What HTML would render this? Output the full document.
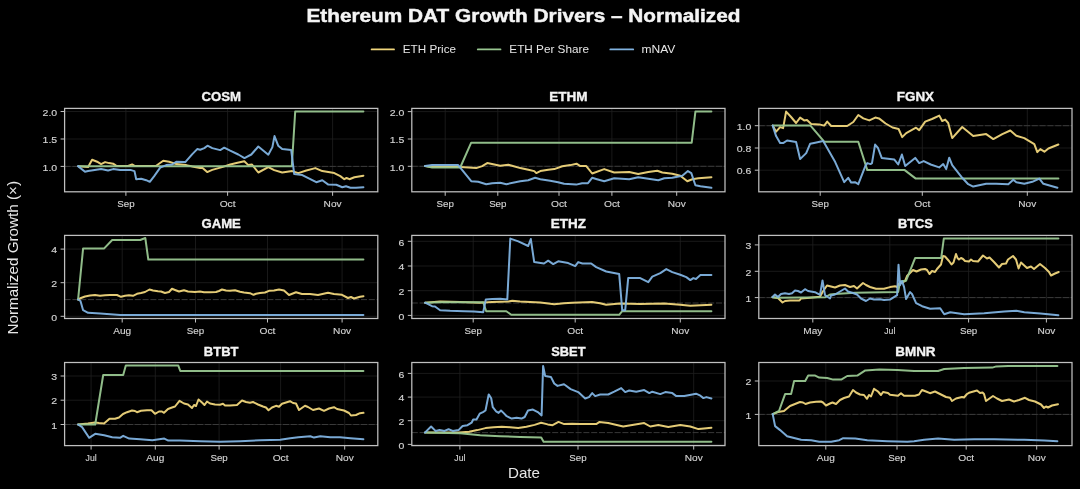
<!DOCTYPE html>
<html><head><meta charset="utf-8"><title>Ethereum DAT Growth Drivers</title>
<style>html,body{margin:0;padding:0;background:#000;width:1080px;height:489px;overflow:hidden}svg{display:block}text{font-family:"Liberation Sans",sans-serif}.tt{paint-order:stroke}</style>
</head><body>
<svg width="1080" height="489" viewBox="0 0 1080 489" style="will-change:transform">
<rect x="0" y="0" width="1080" height="489" fill="#000"/>
<text x="523.4" y="21.7" fill="#f4f4f4" stroke="#f4f4f4" stroke-width="0.45" font-size="18.75" font-weight="bold" text-anchor="middle" textLength="434.01" lengthAdjust="spacingAndGlyphs">Ethereum DAT Growth Drivers – Normalized</text>
<line x1="371.6" y1="49.4" x2="394" y2="49.4" stroke="#f0d67c" stroke-width="1.8" stroke-linecap="round"/>
<text x="402.8" y="52.9" fill="#e6e6e6" font-size="10.9" textLength="53.22" lengthAdjust="spacingAndGlyphs">ETH Price</text>
<line x1="477.8" y1="49.4" x2="500.5" y2="49.4" stroke="#98c690" stroke-width="1.8" stroke-linecap="round"/>
<text x="509.3" y="52.9" fill="#e6e6e6" font-size="10.9" textLength="79.63" lengthAdjust="spacingAndGlyphs">ETH Per Share</text>
<line x1="610.3" y1="49.4" x2="633.2" y2="49.4" stroke="#80b2e0" stroke-width="1.8" stroke-linecap="round"/>
<text x="641.5" y="52.9" fill="#e6e6e6" font-size="10.9" textLength="33.9" lengthAdjust="spacingAndGlyphs">mNAV</text>
<text x="524" y="478.3" fill="#e6e6e6" font-size="14.2" text-anchor="middle" textLength="32.03" lengthAdjust="spacingAndGlyphs">Date</text>
<text transform="translate(18.2,257.8) rotate(-90)" x="0" y="0" fill="#e6e6e6" font-size="14.2" text-anchor="middle" textLength="153.54" lengthAdjust="spacingAndGlyphs">Normalized Growth (×)</text>
<g>
<line x1="64.6" y1="111.5" x2="377.8" y2="111.5" stroke="#202020" stroke-width="0.8"/>
<line x1="64.6" y1="139" x2="377.8" y2="139" stroke="#202020" stroke-width="0.8"/>
<line x1="64.6" y1="166.4" x2="377.8" y2="166.4" stroke="#202020" stroke-width="0.8"/>
<line x1="125.9" y1="108.4" x2="125.9" y2="191.8" stroke="#202020" stroke-width="0.8"/>
<line x1="227.6" y1="108.4" x2="227.6" y2="191.8" stroke="#202020" stroke-width="0.8"/>
<line x1="332.6" y1="108.4" x2="332.6" y2="191.8" stroke="#202020" stroke-width="0.8"/>
<line x1="64.6" y1="166.4" x2="377.8" y2="166.4" stroke="#3e3e3e" stroke-width="0.9" stroke-dasharray="6,1.8"/>
<polyline fill="none" stroke="#f0d67c" stroke-width="2.0" stroke-linejoin="round" stroke-linecap="round" stroke-opacity="0.95" points="78.5,166.3 88.1,167.1 92.1,159.7 97.1,161.7 101.1,164.1 105.1,162.1 109.1,163.1 113.1,163.7 116.1,165.7 128,165.9 132.1,164.5 135,166.1 156.2,165.7 163.2,160.7 169.2,161.7 176.2,164.1 186.3,165.1 192.3,166.5 200.1,168.1 202.3,167.7 207.2,172.1 212.2,169.9 222.1,167.1 230.2,164.5 236.4,163.1 244.3,161.3 248.3,165.1 252,164.5 258.3,172.5 268.3,167.1 274.2,170.1 282.2,172.5 292.2,171.1 298.3,173.1 306.3,170.5 315.3,168.1 322.3,171.1 334.3,173.1 340.3,176.1 344.3,179.2 346.5,178 349.4,179.2 354.4,177.2 363.4,175.7"/>
<polyline fill="none" stroke="#98c690" stroke-width="2.0" stroke-linejoin="round" stroke-linecap="round" stroke-opacity="0.95" points="78.5,166.3 291.8,166.3 295.2,111.6 363.4,111.6"/>
<polyline fill="none" stroke="#80b2e0" stroke-width="2.0" stroke-linejoin="round" stroke-linecap="round" stroke-opacity="0.95" points="78,166.1 85,171.7 88.1,171.1 101.1,169.1 108.1,170.5 113.1,169.1 120.1,170.1 131.1,170.1 134.5,171.1 136.2,179.2 141.2,178.8 146.2,180.2 149.8,181.8 154.2,176.1 160.2,167.7 166.2,165.1 172.2,164.5 176.2,161.7 184,162.1 185.3,162.1 192.3,154.1 197.2,149.1 200.2,149.7 204.3,148.1 207.5,145.7 212.3,148.1 220.2,150.1 224.2,147.7 230.2,150.7 238.3,154.5 244.5,158.1 251.3,154.5 258.3,146.5 268.3,154.7 272.4,147.1 274.5,136.1 278.2,145.7 282.2,149.1 291.2,150.1 294.2,174.1 302.3,175.1 310.3,179.2 316.3,182.2 322.3,180.2 328.3,184.6 336.3,184.8 342.3,187.2 346,186.2 350.4,187.8 356,187.8 363.4,187.2"/>
<rect x="64.6" y="108.4" width="313.2" height="83.4" fill="none" stroke="#c0c0c0" stroke-width="1.25"/>
<line x1="60.6" y1="111.5" x2="64.6" y2="111.5" stroke="#c0c0c0" stroke-width="1"/>
<text x="57.2" y="115.7" fill="#d2d2d2" stroke="#d2d2d2" stroke-width="0.15" font-size="9.9" text-anchor="end" textLength="14.63" lengthAdjust="spacingAndGlyphs">2.0</text>
<line x1="60.6" y1="139" x2="64.6" y2="139" stroke="#c0c0c0" stroke-width="1"/>
<text x="57.2" y="143.2" fill="#d2d2d2" stroke="#d2d2d2" stroke-width="0.15" font-size="9.9" text-anchor="end" textLength="14.63" lengthAdjust="spacingAndGlyphs">1.5</text>
<line x1="60.6" y1="166.4" x2="64.6" y2="166.4" stroke="#c0c0c0" stroke-width="1"/>
<text x="57.2" y="170.6" fill="#d2d2d2" stroke="#d2d2d2" stroke-width="0.15" font-size="9.9" text-anchor="end" textLength="14.63" lengthAdjust="spacingAndGlyphs">1.0</text>
<line x1="125.9" y1="191.8" x2="125.9" y2="195.8" stroke="#c0c0c0" stroke-width="1"/>
<text x="125.9" y="206.8" fill="#d2d2d2" stroke="#d2d2d2" stroke-width="0.15" font-size="9.9" text-anchor="middle" textLength="17.34" lengthAdjust="spacingAndGlyphs">Sep</text>
<line x1="227.6" y1="191.8" x2="227.6" y2="195.8" stroke="#c0c0c0" stroke-width="1"/>
<text x="227.6" y="206.8" fill="#d2d2d2" stroke="#d2d2d2" stroke-width="0.15" font-size="9.9" text-anchor="middle" textLength="15.91" lengthAdjust="spacingAndGlyphs">Oct</text>
<line x1="332.6" y1="191.8" x2="332.6" y2="195.8" stroke="#c0c0c0" stroke-width="1"/>
<text x="332.6" y="206.8" fill="#d2d2d2" stroke="#d2d2d2" stroke-width="0.15" font-size="9.9" text-anchor="middle" textLength="17.96" lengthAdjust="spacingAndGlyphs">Nov</text>
<text x="221.2" y="101.4" fill="#f4f4f4" stroke="#f4f4f4" stroke-width="0.35" font-size="12.72" font-weight="bold" text-anchor="middle" textLength="39.59" lengthAdjust="spacingAndGlyphs">COSM</text>
</g>
<g>
<line x1="411.8" y1="111.6" x2="725" y2="111.6" stroke="#202020" stroke-width="0.8"/>
<line x1="411.8" y1="139" x2="725" y2="139" stroke="#202020" stroke-width="0.8"/>
<line x1="411.8" y1="166.3" x2="725" y2="166.3" stroke="#202020" stroke-width="0.8"/>
<line x1="445.2" y1="108.4" x2="445.2" y2="191.8" stroke="#202020" stroke-width="0.8"/>
<line x1="497.8" y1="108.4" x2="497.8" y2="191.8" stroke="#202020" stroke-width="0.8"/>
<line x1="559" y1="108.4" x2="559" y2="191.8" stroke="#202020" stroke-width="0.8"/>
<line x1="611.9" y1="108.4" x2="611.9" y2="191.8" stroke="#202020" stroke-width="0.8"/>
<line x1="676.7" y1="108.4" x2="676.7" y2="191.8" stroke="#202020" stroke-width="0.8"/>
<line x1="411.8" y1="166.3" x2="725" y2="166.3" stroke="#3e3e3e" stroke-width="0.9" stroke-dasharray="6,1.8"/>
<polyline fill="none" stroke="#f0d67c" stroke-width="2.0" stroke-linejoin="round" stroke-linecap="round" stroke-opacity="0.95" points="425.1,166.1 432.1,167.1 460.2,167.1 476.2,168.1 482.2,166.1 487.2,163.1 492,164.1 500.2,165.7 508.3,164.7 512,165.7 520.3,168.1 528.3,169.7 534.3,171.1 536.3,173.1 540.3,171.1 548.3,169.7 554.3,169.1 562.3,166.3 570.4,165.1 576.5,163.7 580.3,166.1 586.3,166.1 592.2,173.5 604.2,169.1 614.2,172.5 629.2,172.1 638.2,174.1 648.3,172.1 657.3,170.7 662.3,172.5 672.3,173.7 680.3,175.7 687.3,181.2 692.3,179.2 698.4,178.2 711.4,177.2"/>
<polyline fill="none" stroke="#98c690" stroke-width="2.0" stroke-linejoin="round" stroke-linecap="round" stroke-opacity="0.95" points="425.1,166.1 432.1,167.5 460.2,167.5 471.2,142.7 691.7,142.7 695.4,111.6 711.4,111.6"/>
<polyline fill="none" stroke="#80b2e0" stroke-width="2.0" stroke-linejoin="round" stroke-linecap="round" stroke-opacity="0.95" points="425.1,166.1 432.1,165.1 458.2,165.1 471.2,181.2 478.2,181.8 486.2,184.2 492.2,183.2 500.2,182.8 506.3,184.2 520.2,181.2 528.2,180.2 535.1,177.8 540.3,179.2 550.2,180.8 558.1,182.2 564.1,183.8 576.2,184.6 582.1,183.2 588,183.2 592.1,177.8 597,179.2 604.2,181.2 614.2,178.2 629.2,179.2 638.2,177.2 648.3,178.8 658.3,180.2 664.3,178.2 672.3,177.8 682.3,175.7 687.9,171.1 691.3,173.1 695.4,185.2 700.4,186.2 711.4,187.8"/>
<rect x="411.8" y="108.4" width="313.2" height="83.4" fill="none" stroke="#c0c0c0" stroke-width="1.25"/>
<line x1="407.8" y1="111.6" x2="411.8" y2="111.6" stroke="#c0c0c0" stroke-width="1"/>
<text x="404.4" y="115.8" fill="#d2d2d2" stroke="#d2d2d2" stroke-width="0.15" font-size="9.9" text-anchor="end" textLength="14.63" lengthAdjust="spacingAndGlyphs">2.0</text>
<line x1="407.8" y1="139" x2="411.8" y2="139" stroke="#c0c0c0" stroke-width="1"/>
<text x="404.4" y="143.2" fill="#d2d2d2" stroke="#d2d2d2" stroke-width="0.15" font-size="9.9" text-anchor="end" textLength="14.63" lengthAdjust="spacingAndGlyphs">1.5</text>
<line x1="407.8" y1="166.3" x2="411.8" y2="166.3" stroke="#c0c0c0" stroke-width="1"/>
<text x="404.4" y="170.5" fill="#d2d2d2" stroke="#d2d2d2" stroke-width="0.15" font-size="9.9" text-anchor="end" textLength="14.63" lengthAdjust="spacingAndGlyphs">1.0</text>
<line x1="445.2" y1="191.8" x2="445.2" y2="195.8" stroke="#c0c0c0" stroke-width="1"/>
<text x="445.2" y="206.8" fill="#d2d2d2" stroke="#d2d2d2" stroke-width="0.15" font-size="9.9" text-anchor="middle" textLength="17.34" lengthAdjust="spacingAndGlyphs">Sep</text>
<line x1="497.8" y1="191.8" x2="497.8" y2="195.8" stroke="#c0c0c0" stroke-width="1"/>
<text x="497.8" y="206.8" fill="#d2d2d2" stroke="#d2d2d2" stroke-width="0.15" font-size="9.9" text-anchor="middle" textLength="17.34" lengthAdjust="spacingAndGlyphs">Sep</text>
<line x1="559" y1="191.8" x2="559" y2="195.8" stroke="#c0c0c0" stroke-width="1"/>
<text x="559" y="206.8" fill="#d2d2d2" stroke="#d2d2d2" stroke-width="0.15" font-size="9.9" text-anchor="middle" textLength="15.91" lengthAdjust="spacingAndGlyphs">Oct</text>
<line x1="611.9" y1="191.8" x2="611.9" y2="195.8" stroke="#c0c0c0" stroke-width="1"/>
<text x="611.9" y="206.8" fill="#d2d2d2" stroke="#d2d2d2" stroke-width="0.15" font-size="9.9" text-anchor="middle" textLength="15.91" lengthAdjust="spacingAndGlyphs">Oct</text>
<line x1="676.7" y1="191.8" x2="676.7" y2="195.8" stroke="#c0c0c0" stroke-width="1"/>
<text x="676.7" y="206.8" fill="#d2d2d2" stroke="#d2d2d2" stroke-width="0.15" font-size="9.9" text-anchor="middle" textLength="17.96" lengthAdjust="spacingAndGlyphs">Nov</text>
<text x="568.4" y="101.4" fill="#f4f4f4" stroke="#f4f4f4" stroke-width="0.35" font-size="12.72" font-weight="bold" text-anchor="middle" textLength="38.37" lengthAdjust="spacingAndGlyphs">ETHM</text>
</g>
<g>
<line x1="758.8" y1="125.7" x2="1072" y2="125.7" stroke="#202020" stroke-width="0.8"/>
<line x1="758.8" y1="148" x2="1072" y2="148" stroke="#202020" stroke-width="0.8"/>
<line x1="758.8" y1="170.2" x2="1072" y2="170.2" stroke="#202020" stroke-width="0.8"/>
<line x1="820.2" y1="108.4" x2="820.2" y2="191.8" stroke="#202020" stroke-width="0.8"/>
<line x1="922.3" y1="108.4" x2="922.3" y2="191.8" stroke="#202020" stroke-width="0.8"/>
<line x1="1027.3" y1="108.4" x2="1027.3" y2="191.8" stroke="#202020" stroke-width="0.8"/>
<line x1="758.8" y1="125.7" x2="1072" y2="125.7" stroke="#3e3e3e" stroke-width="0.9" stroke-dasharray="6,1.8"/>
<polyline fill="none" stroke="#f0d67c" stroke-width="2.0" stroke-linejoin="round" stroke-linecap="round" stroke-opacity="0.95" points="772.7,125.6 776.1,131.7 780.1,127.1 783.1,128.1 786.1,111.6 791.1,117 796.1,123 800.1,117.6 804.2,120.4 807,120 811.2,124 819.2,124.4 824.2,125.6 827.2,121.6 831.2,126 847.2,126 853.3,122 858.3,115 863.3,118.4 869.3,120.4 875.3,117.6 879,118.4 885.6,123.5 892.5,127.5 898.6,129 902.2,137.1 906.2,133.1 916,127.7 919.2,130.1 925.2,121.6 932,119 939.3,115.6 942.2,121 945.2,119.6 948.2,123 952.2,138.1 962.2,127 973.2,136.1 986.2,134.1 993.3,139.1 1002.3,134.1 1010.3,130.5 1016.3,135.7 1024.3,138.1 1034.3,144.1 1037.3,152.1 1040.3,149.1 1044.4,151.7 1048.4,148.5 1058.4,144.5"/>
<polyline fill="none" stroke="#98c690" stroke-width="2.0" stroke-linejoin="round" stroke-linecap="round" stroke-opacity="0.95" points="772.7,125.6 810.5,125.6 824.4,141.8 858.3,141.8 867.3,170.1 904.7,170.1 915.8,178.6 1058.4,178.6"/>
<polyline fill="none" stroke="#80b2e0" stroke-width="2.0" stroke-linejoin="round" stroke-linecap="round" stroke-opacity="0.95" points="772.7,125.6 776.1,136.1 780.1,143.1 783.1,143.1 787.1,140.5 796.1,142.1 800.1,159.1 806.2,153.1 810.2,143.7 815.2,142.7 823.2,141.1 827.2,148.1 835.2,162.1 844.2,182.2 848.2,177.8 851.2,182.6 855,182.2 858.3,184.2 865.3,166.1 867.3,163.1 870.5,164.1 872,163.1 875.1,144.6 878,148 881.7,157.9 894.2,159.4 898.2,164.5 901.9,154.5 905.2,166.1 915.2,157.9 919.2,163.1 923.7,161.1 930.7,164.5 939.2,167.4 943.2,164.1 946.2,169.1 949.2,157.7 952.2,165.1 962.2,177.8 968.2,184.2 973.2,186.6 986.2,183.8 996.3,183.8 1008.3,184.2 1013.3,179.8 1016.3,182.2 1024.3,183.8 1032.3,181.8 1039.3,178.6 1043.4,183.8 1050.4,185.8 1057.4,187.8"/>
<rect x="758.8" y="108.4" width="313.2" height="83.4" fill="none" stroke="#c0c0c0" stroke-width="1.25"/>
<line x1="754.8" y1="125.7" x2="758.8" y2="125.7" stroke="#c0c0c0" stroke-width="1"/>
<text x="751.4" y="129.9" fill="#d2d2d2" stroke="#d2d2d2" stroke-width="0.15" font-size="9.9" text-anchor="end" textLength="14.63" lengthAdjust="spacingAndGlyphs">1.0</text>
<line x1="754.8" y1="148" x2="758.8" y2="148" stroke="#c0c0c0" stroke-width="1"/>
<text x="751.4" y="152.2" fill="#d2d2d2" stroke="#d2d2d2" stroke-width="0.15" font-size="9.9" text-anchor="end" textLength="14.63" lengthAdjust="spacingAndGlyphs">0.8</text>
<line x1="754.8" y1="170.2" x2="758.8" y2="170.2" stroke="#c0c0c0" stroke-width="1"/>
<text x="751.4" y="174.4" fill="#d2d2d2" stroke="#d2d2d2" stroke-width="0.15" font-size="9.9" text-anchor="end" textLength="14.63" lengthAdjust="spacingAndGlyphs">0.6</text>
<line x1="820.2" y1="191.8" x2="820.2" y2="195.8" stroke="#c0c0c0" stroke-width="1"/>
<text x="820.2" y="206.8" fill="#d2d2d2" stroke="#d2d2d2" stroke-width="0.15" font-size="9.9" text-anchor="middle" textLength="17.34" lengthAdjust="spacingAndGlyphs">Sep</text>
<line x1="922.3" y1="191.8" x2="922.3" y2="195.8" stroke="#c0c0c0" stroke-width="1"/>
<text x="922.3" y="206.8" fill="#d2d2d2" stroke="#d2d2d2" stroke-width="0.15" font-size="9.9" text-anchor="middle" textLength="15.91" lengthAdjust="spacingAndGlyphs">Oct</text>
<line x1="1027.3" y1="191.8" x2="1027.3" y2="195.8" stroke="#c0c0c0" stroke-width="1"/>
<text x="1027.3" y="206.8" fill="#d2d2d2" stroke="#d2d2d2" stroke-width="0.15" font-size="9.9" text-anchor="middle" textLength="17.96" lengthAdjust="spacingAndGlyphs">Nov</text>
<text x="915.4" y="101.4" fill="#f4f4f4" stroke="#f4f4f4" stroke-width="0.35" font-size="12.72" font-weight="bold" text-anchor="middle" textLength="37.34" lengthAdjust="spacingAndGlyphs">FGNX</text>
</g>
<g>
<line x1="64.6" y1="249.1" x2="377.8" y2="249.1" stroke="#202020" stroke-width="0.8"/>
<line x1="64.6" y1="282.7" x2="377.8" y2="282.7" stroke="#202020" stroke-width="0.8"/>
<line x1="64.6" y1="316.3" x2="377.8" y2="316.3" stroke="#202020" stroke-width="0.8"/>
<line x1="122.2" y1="235.4" x2="122.2" y2="318.5" stroke="#202020" stroke-width="0.8"/>
<line x1="195.5" y1="235.4" x2="195.5" y2="318.5" stroke="#202020" stroke-width="0.8"/>
<line x1="267.5" y1="235.4" x2="267.5" y2="318.5" stroke="#202020" stroke-width="0.8"/>
<line x1="342.1" y1="235.4" x2="342.1" y2="318.5" stroke="#202020" stroke-width="0.8"/>
<line x1="64.6" y1="299.6" x2="377.8" y2="299.6" stroke="#3e3e3e" stroke-width="0.9" stroke-dasharray="6,1.8"/>
<polyline fill="none" stroke="#f0d67c" stroke-width="2.0" stroke-linejoin="round" stroke-linecap="round" stroke-opacity="0.95" points="78.1,299.5 81,298 85,296.5 90,295.5 95,295 100,295.8 105,295.2 110,295 117,295 121,296.8 125,295.8 129,295.2 133,295.8 137,293.8 141,293 145,292 149.5,289.5 153,290.5 158,291.2 161,291.5 165,293 169,292 172,288.8 175,290 179,291.5 184,290.2 188,291.5 195,292 200,291.5 204,292.2 210,292.2 216,292 219,291 222,289.5 226,290.5 230,290.8 235,290.2 240,291.8 244,292.5 250,293.2 253.5,294.8 256,293.8 260,293 265,292.5 269,290.8 274,290.5 279,289.5 284,290.5 289,295 296,292.2 302,294 310,294 318,295 328,292.8 334,294 342,294.8 348,298 351,297 354,298.5 360,296.8 363.5,296.2"/>
<polyline fill="none" stroke="#98c690" stroke-width="2.0" stroke-linejoin="round" stroke-linecap="round" stroke-opacity="0.95" points="78.1,299.5 83.1,248.4 104.2,248.4 112.2,240 140.2,240 145.3,238 148.3,259.6 363.4,259.6"/>
<polyline fill="none" stroke="#80b2e0" stroke-width="2.0" stroke-linejoin="round" stroke-linecap="round" stroke-opacity="0.95" points="78.1,299.5 80.5,301 83.1,310.2 88.1,312.8 100.2,313.6 120.2,315 200,315 363.4,314.9"/>
<rect x="64.6" y="235.4" width="313.2" height="83.1" fill="none" stroke="#c0c0c0" stroke-width="1.25"/>
<line x1="60.6" y1="249.1" x2="64.6" y2="249.1" stroke="#c0c0c0" stroke-width="1"/>
<text x="57.2" y="253.3" fill="#d2d2d2" stroke="#d2d2d2" stroke-width="0.15" font-size="9.9" text-anchor="end" textLength="5.85" lengthAdjust="spacingAndGlyphs">4</text>
<line x1="60.6" y1="282.7" x2="64.6" y2="282.7" stroke="#c0c0c0" stroke-width="1"/>
<text x="57.2" y="286.9" fill="#d2d2d2" stroke="#d2d2d2" stroke-width="0.15" font-size="9.9" text-anchor="end" textLength="5.85" lengthAdjust="spacingAndGlyphs">2</text>
<line x1="60.6" y1="316.3" x2="64.6" y2="316.3" stroke="#c0c0c0" stroke-width="1"/>
<text x="57.2" y="320.5" fill="#d2d2d2" stroke="#d2d2d2" stroke-width="0.15" font-size="9.9" text-anchor="end" textLength="5.85" lengthAdjust="spacingAndGlyphs">0</text>
<line x1="122.2" y1="318.5" x2="122.2" y2="322.5" stroke="#c0c0c0" stroke-width="1"/>
<text x="122.2" y="333.5" fill="#d2d2d2" stroke="#d2d2d2" stroke-width="0.15" font-size="9.9" text-anchor="middle" textLength="17.96" lengthAdjust="spacingAndGlyphs">Aug</text>
<line x1="195.5" y1="318.5" x2="195.5" y2="322.5" stroke="#c0c0c0" stroke-width="1"/>
<text x="195.5" y="333.5" fill="#d2d2d2" stroke="#d2d2d2" stroke-width="0.15" font-size="9.9" text-anchor="middle" textLength="17.34" lengthAdjust="spacingAndGlyphs">Sep</text>
<line x1="267.5" y1="318.5" x2="267.5" y2="322.5" stroke="#c0c0c0" stroke-width="1"/>
<text x="267.5" y="333.5" fill="#d2d2d2" stroke="#d2d2d2" stroke-width="0.15" font-size="9.9" text-anchor="middle" textLength="15.91" lengthAdjust="spacingAndGlyphs">Oct</text>
<line x1="342.1" y1="318.5" x2="342.1" y2="322.5" stroke="#c0c0c0" stroke-width="1"/>
<text x="342.1" y="333.5" fill="#d2d2d2" stroke="#d2d2d2" stroke-width="0.15" font-size="9.9" text-anchor="middle" textLength="17.96" lengthAdjust="spacingAndGlyphs">Nov</text>
<text x="221.2" y="228.4" fill="#f4f4f4" stroke="#f4f4f4" stroke-width="0.35" font-size="12.72" font-weight="bold" text-anchor="middle" textLength="39.28" lengthAdjust="spacingAndGlyphs">GAME</text>
</g>
<g>
<line x1="411.8" y1="241.3" x2="725" y2="241.3" stroke="#202020" stroke-width="0.8"/>
<line x1="411.8" y1="266" x2="725" y2="266" stroke="#202020" stroke-width="0.8"/>
<line x1="411.8" y1="290.7" x2="725" y2="290.7" stroke="#202020" stroke-width="0.8"/>
<line x1="411.8" y1="315.4" x2="725" y2="315.4" stroke="#202020" stroke-width="0.8"/>
<line x1="473.2" y1="235.4" x2="473.2" y2="318.5" stroke="#202020" stroke-width="0.8"/>
<line x1="575.2" y1="235.4" x2="575.2" y2="318.5" stroke="#202020" stroke-width="0.8"/>
<line x1="680.3" y1="235.4" x2="680.3" y2="318.5" stroke="#202020" stroke-width="0.8"/>
<line x1="411.8" y1="303" x2="725" y2="303" stroke="#3e3e3e" stroke-width="0.9" stroke-dasharray="6,1.8"/>
<polyline fill="none" stroke="#f0d67c" stroke-width="2.0" stroke-linejoin="round" stroke-linecap="round" stroke-opacity="0.95" points="425.1,302.7 440.1,301.5 460,302.1 480.2,302.7 492,302.1 508.3,301.5 512.3,300.7 520,301.5 540.3,302.4 554.2,304.2 564,303.3 572.1,302.7 592.1,302.1 600,303.3 606.2,304.8 620.2,303.5 640,304 664.3,303.5 680.3,304.8 690.3,305.8 711.4,304.8"/>
<polyline fill="none" stroke="#98c690" stroke-width="2.0" stroke-linejoin="round" stroke-linecap="round" stroke-opacity="0.95" points="425.1,302.7 440,302.2 483.2,302.3 486.2,311.2 506.3,311.2 511.3,314.8 619.2,314.8 622.2,311.2 711.4,311.2"/>
<polyline fill="none" stroke="#80b2e0" stroke-width="2.0" stroke-linejoin="round" stroke-linecap="round" stroke-opacity="0.95" points="425.1,302.7 432.1,306.2 435,306.5 440.1,310.2 450.1,310.8 464.2,311.2 474,311.5 483.2,312.2 485.8,299.5 492.2,299.1 500.2,298.7 507.3,299.5 510.3,238.6 518.3,241.4 528.2,246 530.8,239 534.2,262.1 544,263.5 548.2,260.7 553.2,264.1 558.2,261.3 568.2,263.1 575.2,266.1 578.2,262.1 582.4,263.5 591.2,263.5 596.2,267.1 606.2,271.5 619.2,274.1 622.2,310.2 625.2,310.2 628.2,278.1 640.2,278.1 648.3,282.1 652.3,276.7 660.3,273.1 666.3,269.1 672.3,272.1 680.3,274.7 686.3,277.1 690.3,280.1 693.3,278.1 696,279 700.4,275.1 711.4,275.1"/>
<rect x="411.8" y="235.4" width="313.2" height="83.1" fill="none" stroke="#c0c0c0" stroke-width="1.25"/>
<line x1="407.8" y1="241.3" x2="411.8" y2="241.3" stroke="#c0c0c0" stroke-width="1"/>
<text x="404.4" y="245.5" fill="#d2d2d2" stroke="#d2d2d2" stroke-width="0.15" font-size="9.9" text-anchor="end" textLength="5.85" lengthAdjust="spacingAndGlyphs">6</text>
<line x1="407.8" y1="266" x2="411.8" y2="266" stroke="#c0c0c0" stroke-width="1"/>
<text x="404.4" y="270.2" fill="#d2d2d2" stroke="#d2d2d2" stroke-width="0.15" font-size="9.9" text-anchor="end" textLength="5.85" lengthAdjust="spacingAndGlyphs">4</text>
<line x1="407.8" y1="290.7" x2="411.8" y2="290.7" stroke="#c0c0c0" stroke-width="1"/>
<text x="404.4" y="294.9" fill="#d2d2d2" stroke="#d2d2d2" stroke-width="0.15" font-size="9.9" text-anchor="end" textLength="5.85" lengthAdjust="spacingAndGlyphs">2</text>
<line x1="407.8" y1="315.4" x2="411.8" y2="315.4" stroke="#c0c0c0" stroke-width="1"/>
<text x="404.4" y="319.6" fill="#d2d2d2" stroke="#d2d2d2" stroke-width="0.15" font-size="9.9" text-anchor="end" textLength="5.85" lengthAdjust="spacingAndGlyphs">0</text>
<line x1="473.2" y1="318.5" x2="473.2" y2="322.5" stroke="#c0c0c0" stroke-width="1"/>
<text x="473.2" y="333.5" fill="#d2d2d2" stroke="#d2d2d2" stroke-width="0.15" font-size="9.9" text-anchor="middle" textLength="17.34" lengthAdjust="spacingAndGlyphs">Sep</text>
<line x1="575.2" y1="318.5" x2="575.2" y2="322.5" stroke="#c0c0c0" stroke-width="1"/>
<text x="575.2" y="333.5" fill="#d2d2d2" stroke="#d2d2d2" stroke-width="0.15" font-size="9.9" text-anchor="middle" textLength="15.91" lengthAdjust="spacingAndGlyphs">Oct</text>
<line x1="680.3" y1="318.5" x2="680.3" y2="322.5" stroke="#c0c0c0" stroke-width="1"/>
<text x="680.3" y="333.5" fill="#d2d2d2" stroke="#d2d2d2" stroke-width="0.15" font-size="9.9" text-anchor="middle" textLength="17.96" lengthAdjust="spacingAndGlyphs">Nov</text>
<text x="568.4" y="228.4" fill="#f4f4f4" stroke="#f4f4f4" stroke-width="0.35" font-size="12.72" font-weight="bold" text-anchor="middle" textLength="35.13" lengthAdjust="spacingAndGlyphs">ETHZ</text>
</g>
<g>
<line x1="758.8" y1="244.9" x2="1072" y2="244.9" stroke="#202020" stroke-width="0.8"/>
<line x1="758.8" y1="271.3" x2="1072" y2="271.3" stroke="#202020" stroke-width="0.8"/>
<line x1="758.8" y1="297.6" x2="1072" y2="297.6" stroke="#202020" stroke-width="0.8"/>
<line x1="812.8" y1="235.4" x2="812.8" y2="318.5" stroke="#202020" stroke-width="0.8"/>
<line x1="889.8" y1="235.4" x2="889.8" y2="318.5" stroke="#202020" stroke-width="0.8"/>
<line x1="968.6" y1="235.4" x2="968.6" y2="318.5" stroke="#202020" stroke-width="0.8"/>
<line x1="1046.4" y1="235.4" x2="1046.4" y2="318.5" stroke="#202020" stroke-width="0.8"/>
<line x1="758.8" y1="297.6" x2="1072" y2="297.6" stroke="#3e3e3e" stroke-width="0.9" stroke-dasharray="6,1.8"/>
<polyline fill="none" stroke="#f0d67c" stroke-width="2.0" stroke-linejoin="round" stroke-linecap="round" stroke-opacity="0.95" points="772.5,297.2 778,298 782.5,302.5 785,301 790,300.5 799.5,300.5 801,298.5 810,297.8 820,296.8 822.5,292 827,285.5 831,286.5 835,287.5 840,285.5 845,285 850,287 854,286 857,288.5 863,283 866,285 870,287 876,288.7 884,288.7 890,287.1 895,286.2 897,287.1 899.1,283.5 902,282.5 905,281 907,276 913,270 916.5,271.5 921,269.5 925,269 927,270 929.5,274 932,271 935,272 937,269 941,264.5 943,256 945,256.5 949,261 951.5,264.5 953.5,262.5 956,254 957.5,258 959,259.5 961,258 963,259 965,261 969,261.5 971,259.5 973,261 978,261.5 983,255.5 987,258.5 989.5,257.5 994,262 999,267.5 1002,264 1006,263.5 1008,259.5 1013,256 1016,259.5 1018.6,268.5 1021,262.5 1027,268 1031,266.5 1034,269 1040,264 1045,268 1049,272 1051,275.5 1055,273.5 1058.7,272"/>
<polyline fill="none" stroke="#98c690" stroke-width="2.0" stroke-linejoin="round" stroke-linecap="round" stroke-opacity="0.95" points="772.5,297.2 778,297.8 825,297.3 830,294.5 835,294 855,292.8 898.1,292 900.1,281.5 906.1,280.7 915.1,258.1 941.2,258.1 943.8,238.6 1058.4,238.6"/>
<polyline fill="none" stroke="#80b2e0" stroke-width="2.0" stroke-linejoin="round" stroke-linecap="round" stroke-opacity="0.95" points="772.5,297 775,294.5 778,297 781,294 785,293.2 789,294 792,293.2 795,290.5 798,291 801,292.5 805,289.2 808,291 815,292.2 820,294.8 822.5,280.5 825,295 827,296.5 830,298.5 831,295.5 835,294.5 840,291.5 845,288.5 848,291.5 853,293 857,294.5 861,298.5 866,301 870,298.5 874,299.5 880,299.3 884,300.1 890,299.6 897.1,295.1 898.5,264.7 900.1,285.1 902.1,281.1 904.1,287.1 906.1,299.1 910.1,292.1 912,294 916.1,303.1 922.1,306.2 930.1,308.8 940.2,308.2 944.2,314.2 950.2,312.2 964.2,314.2 984.2,313.2 1004.3,311.6 1016.3,310.8 1024.3,312.2 1040.4,313.6 1058.4,315.2"/>
<rect x="758.8" y="235.4" width="313.2" height="83.1" fill="none" stroke="#c0c0c0" stroke-width="1.25"/>
<line x1="754.8" y1="244.9" x2="758.8" y2="244.9" stroke="#c0c0c0" stroke-width="1"/>
<text x="751.4" y="249.1" fill="#d2d2d2" stroke="#d2d2d2" stroke-width="0.15" font-size="9.9" text-anchor="end" textLength="5.85" lengthAdjust="spacingAndGlyphs">3</text>
<line x1="754.8" y1="271.3" x2="758.8" y2="271.3" stroke="#c0c0c0" stroke-width="1"/>
<text x="751.4" y="275.5" fill="#d2d2d2" stroke="#d2d2d2" stroke-width="0.15" font-size="9.9" text-anchor="end" textLength="5.85" lengthAdjust="spacingAndGlyphs">2</text>
<line x1="754.8" y1="297.6" x2="758.8" y2="297.6" stroke="#c0c0c0" stroke-width="1"/>
<text x="751.4" y="301.8" fill="#d2d2d2" stroke="#d2d2d2" stroke-width="0.15" font-size="9.9" text-anchor="end" textLength="5.85" lengthAdjust="spacingAndGlyphs">1</text>
<line x1="812.8" y1="318.5" x2="812.8" y2="322.5" stroke="#c0c0c0" stroke-width="1"/>
<text x="812.8" y="333.5" fill="#d2d2d2" stroke="#d2d2d2" stroke-width="0.15" font-size="9.9" text-anchor="middle" textLength="19.02" lengthAdjust="spacingAndGlyphs">May</text>
<line x1="889.8" y1="318.5" x2="889.8" y2="322.5" stroke="#c0c0c0" stroke-width="1"/>
<text x="889.8" y="333.5" fill="#d2d2d2" stroke="#d2d2d2" stroke-width="0.15" font-size="9.9" text-anchor="middle" textLength="11.1" lengthAdjust="spacingAndGlyphs">Jul</text>
<line x1="968.6" y1="318.5" x2="968.6" y2="322.5" stroke="#c0c0c0" stroke-width="1"/>
<text x="968.6" y="333.5" fill="#d2d2d2" stroke="#d2d2d2" stroke-width="0.15" font-size="9.9" text-anchor="middle" textLength="17.34" lengthAdjust="spacingAndGlyphs">Sep</text>
<line x1="1046.4" y1="318.5" x2="1046.4" y2="322.5" stroke="#c0c0c0" stroke-width="1"/>
<text x="1046.4" y="333.5" fill="#d2d2d2" stroke="#d2d2d2" stroke-width="0.15" font-size="9.9" text-anchor="middle" textLength="17.96" lengthAdjust="spacingAndGlyphs">Nov</text>
<text x="915.4" y="228.4" fill="#f4f4f4" stroke="#f4f4f4" stroke-width="0.35" font-size="12.72" font-weight="bold" text-anchor="middle" textLength="35" lengthAdjust="spacingAndGlyphs">BTCS</text>
</g>
<g>
<line x1="64.6" y1="376" x2="377.8" y2="376" stroke="#202020" stroke-width="0.8"/>
<line x1="64.6" y1="400.2" x2="377.8" y2="400.2" stroke="#202020" stroke-width="0.8"/>
<line x1="64.6" y1="424.5" x2="377.8" y2="424.5" stroke="#202020" stroke-width="0.8"/>
<line x1="91.1" y1="362.5" x2="91.1" y2="445.6" stroke="#202020" stroke-width="0.8"/>
<line x1="155.3" y1="362.5" x2="155.3" y2="445.6" stroke="#202020" stroke-width="0.8"/>
<line x1="219.1" y1="362.5" x2="219.1" y2="445.6" stroke="#202020" stroke-width="0.8"/>
<line x1="280.6" y1="362.5" x2="280.6" y2="445.6" stroke="#202020" stroke-width="0.8"/>
<line x1="344.7" y1="362.5" x2="344.7" y2="445.6" stroke="#202020" stroke-width="0.8"/>
<line x1="64.6" y1="424.5" x2="377.8" y2="424.5" stroke="#3e3e3e" stroke-width="0.9" stroke-dasharray="6,1.8"/>
<polyline fill="none" stroke="#f0d67c" stroke-width="2.0" stroke-linejoin="round" stroke-linecap="round" stroke-opacity="0.95" points="78.1,424.5 88,423.5 95,422.5 99,423 104,423.5 109.5,418.8 115,418.8 119,417.5 123,414 127,412.2 132,410.5 135,411 137,412.2 141,410.8 147,410.2 151.5,410.2 155,413.8 159,411.5 162,411.5 164,412.8 168,409 172,407.5 175,406.5 179.5,400.8 184,403.5 188,404.5 192,408 194,405 196,406 198.5,399.5 202,402.5 204.5,405 207,401.5 210,403.5 215,404.5 220,404.8 223,403.8 225,405.5 230,405.5 237,405 242,400.5 246,402 250,402.8 253,402 258,404.5 263,406.5 266,407.5 268.5,410.2 272,407.5 276,405.8 279,406.8 282,403.8 286,402.5 290,401.2 293,403 296,403.5 299,410 305,405.8 308,407 313,410 319,408.5 324,410.8 329,408.5 334,407.2 337,409 344,410.5 349,413 351,415.5 356,415 360,413.2 363.5,412.8"/>
<polyline fill="none" stroke="#98c690" stroke-width="2.0" stroke-linejoin="round" stroke-linecap="round" stroke-opacity="0.95" points="78.1,424.5 95.2,424.5 103.2,375 123.2,375 125.8,365.6 178.3,365.6 180.3,371 363.4,371"/>
<polyline fill="none" stroke="#80b2e0" stroke-width="2.0" stroke-linejoin="round" stroke-linecap="round" stroke-opacity="0.95" points="78.1,424.5 82.1,427.1 89.1,437.8 95.2,433.8 104.2,435.2 112.2,437.2 120,437.8 123.2,435.8 129.2,438.6 140.2,439.2 152.3,440.2 164.3,438.6 168.3,440.6 180,440.6 200.2,441.2 220.2,441.8 240.1,441.2 260.2,440.2 280.2,439.8 290.2,438.2 298.3,437.2 310.3,436.2 314,437.6 320.3,436.2 330.3,437.2 340,437.2 350.4,438.2 363.4,439.2"/>
<rect x="64.6" y="362.5" width="313.2" height="83.1" fill="none" stroke="#c0c0c0" stroke-width="1.25"/>
<line x1="60.6" y1="376" x2="64.6" y2="376" stroke="#c0c0c0" stroke-width="1"/>
<text x="57.2" y="380.2" fill="#d2d2d2" stroke="#d2d2d2" stroke-width="0.15" font-size="9.9" text-anchor="end" textLength="5.85" lengthAdjust="spacingAndGlyphs">3</text>
<line x1="60.6" y1="400.2" x2="64.6" y2="400.2" stroke="#c0c0c0" stroke-width="1"/>
<text x="57.2" y="404.4" fill="#d2d2d2" stroke="#d2d2d2" stroke-width="0.15" font-size="9.9" text-anchor="end" textLength="5.85" lengthAdjust="spacingAndGlyphs">2</text>
<line x1="60.6" y1="424.5" x2="64.6" y2="424.5" stroke="#c0c0c0" stroke-width="1"/>
<text x="57.2" y="428.7" fill="#d2d2d2" stroke="#d2d2d2" stroke-width="0.15" font-size="9.9" text-anchor="end" textLength="5.85" lengthAdjust="spacingAndGlyphs">1</text>
<line x1="91.1" y1="445.6" x2="91.1" y2="449.6" stroke="#c0c0c0" stroke-width="1"/>
<text x="91.1" y="460.6" fill="#d2d2d2" stroke="#d2d2d2" stroke-width="0.15" font-size="9.9" text-anchor="middle" textLength="11.1" lengthAdjust="spacingAndGlyphs">Jul</text>
<line x1="155.3" y1="445.6" x2="155.3" y2="449.6" stroke="#c0c0c0" stroke-width="1"/>
<text x="155.3" y="460.6" fill="#d2d2d2" stroke="#d2d2d2" stroke-width="0.15" font-size="9.9" text-anchor="middle" textLength="17.96" lengthAdjust="spacingAndGlyphs">Aug</text>
<line x1="219.1" y1="445.6" x2="219.1" y2="449.6" stroke="#c0c0c0" stroke-width="1"/>
<text x="219.1" y="460.6" fill="#d2d2d2" stroke="#d2d2d2" stroke-width="0.15" font-size="9.9" text-anchor="middle" textLength="17.34" lengthAdjust="spacingAndGlyphs">Sep</text>
<line x1="280.6" y1="445.6" x2="280.6" y2="449.6" stroke="#c0c0c0" stroke-width="1"/>
<text x="280.6" y="460.6" fill="#d2d2d2" stroke="#d2d2d2" stroke-width="0.15" font-size="9.9" text-anchor="middle" textLength="15.91" lengthAdjust="spacingAndGlyphs">Oct</text>
<line x1="344.7" y1="445.6" x2="344.7" y2="449.6" stroke="#c0c0c0" stroke-width="1"/>
<text x="344.7" y="460.6" fill="#d2d2d2" stroke="#d2d2d2" stroke-width="0.15" font-size="9.9" text-anchor="middle" textLength="17.96" lengthAdjust="spacingAndGlyphs">Nov</text>
<text x="221.2" y="355.5" fill="#f4f4f4" stroke="#f4f4f4" stroke-width="0.35" font-size="12.72" font-weight="bold" text-anchor="middle" textLength="34.66" lengthAdjust="spacingAndGlyphs">BTBT</text>
</g>
<g>
<line x1="411.8" y1="373.4" x2="725" y2="373.4" stroke="#202020" stroke-width="0.8"/>
<line x1="411.8" y1="397.1" x2="725" y2="397.1" stroke="#202020" stroke-width="0.8"/>
<line x1="411.8" y1="420.7" x2="725" y2="420.7" stroke="#202020" stroke-width="0.8"/>
<line x1="411.8" y1="444.4" x2="725" y2="444.4" stroke="#202020" stroke-width="0.8"/>
<line x1="459.9" y1="362.5" x2="459.9" y2="445.6" stroke="#202020" stroke-width="0.8"/>
<line x1="578" y1="362.5" x2="578" y2="445.6" stroke="#202020" stroke-width="0.8"/>
<line x1="693.7" y1="362.5" x2="693.7" y2="445.6" stroke="#202020" stroke-width="0.8"/>
<line x1="411.8" y1="432.6" x2="725" y2="432.6" stroke="#3e3e3e" stroke-width="0.9" stroke-dasharray="6,1.8"/>
<polyline fill="none" stroke="#f0d67c" stroke-width="2.0" stroke-linejoin="round" stroke-linecap="round" stroke-opacity="0.95" points="425.1,432.6 459.3,432.6 469.1,431.7 477.3,430.1 485.5,428.1 493.6,427.2 501.8,426.8 510,427.2 518.2,428.1 526.4,426.8 534.6,424.9 541.1,422.7 547.7,424.4 552.6,425.2 558.5,421.9 564.2,424.1 572.1,423.7 580,424.1 596.2,424.1 599.2,422.1 608.2,423.1 623.2,426.5 632.2,425.1 644.2,423.1 650.3,426.5 658.3,425.1 668.3,427.1 680.3,425.1 690.3,426.5 698.4,429.1 704,428.5 711.4,427.7"/>
<polyline fill="none" stroke="#98c690" stroke-width="2.0" stroke-linejoin="round" stroke-linecap="round" stroke-opacity="0.95" points="425.1,432.6 460.2,433.2 480.2,435.2 500.2,436.2 520.2,437 541.2,437.4 543.6,441.8 711.4,441.8"/>
<polyline fill="none" stroke="#80b2e0" stroke-width="2.0" stroke-linejoin="round" stroke-linecap="round" stroke-opacity="0.95" points="424.9,432.6 431.1,426.5 435.5,430.9 439.6,430.1 444.5,430.9 448.6,429.3 452.7,430.9 458.5,430.1 462.6,426 467.5,425.2 471.6,422.7 473.2,419.5 476.5,419.5 479.7,413.7 483,412.1 485.5,410.5 488.7,394.4 491.2,398.2 492.8,407.2 496.1,411.3 498.6,412.9 501,410.5 503.5,412.9 506.7,416.2 511.7,418.6 516.6,417.8 521.5,418.6 524.7,417 528,410.5 532.9,409.6 537.8,412.1 541.6,415.4 543.1,366 545.2,376.1 550.9,376.9 554.2,383.5 557.5,385.9 564,384.3 570.6,389.1 578.2,392.1 585.2,398.5 589,397.1 592.2,393.1 595.2,396.1 600.2,394.5 608.2,394.5 614.2,391.7 621.2,388.1 625.2,392.1 629.2,390.5 636.2,391.7 644.2,390.1 649.3,393.1 652.3,391.7 660.3,394.1 665.3,392.1 672.3,393.1 676.3,396.1 684.3,396.1 692.3,394.5 696,393.7 700.4,395.7 703.4,398.1 706.4,397.1 711.4,398.5"/>
<rect x="411.8" y="362.5" width="313.2" height="83.1" fill="none" stroke="#c0c0c0" stroke-width="1.25"/>
<line x1="407.8" y1="373.4" x2="411.8" y2="373.4" stroke="#c0c0c0" stroke-width="1"/>
<text x="404.4" y="377.6" fill="#d2d2d2" stroke="#d2d2d2" stroke-width="0.15" font-size="9.9" text-anchor="end" textLength="5.85" lengthAdjust="spacingAndGlyphs">6</text>
<line x1="407.8" y1="397.1" x2="411.8" y2="397.1" stroke="#c0c0c0" stroke-width="1"/>
<text x="404.4" y="401.3" fill="#d2d2d2" stroke="#d2d2d2" stroke-width="0.15" font-size="9.9" text-anchor="end" textLength="5.85" lengthAdjust="spacingAndGlyphs">4</text>
<line x1="407.8" y1="420.7" x2="411.8" y2="420.7" stroke="#c0c0c0" stroke-width="1"/>
<text x="404.4" y="424.9" fill="#d2d2d2" stroke="#d2d2d2" stroke-width="0.15" font-size="9.9" text-anchor="end" textLength="5.85" lengthAdjust="spacingAndGlyphs">2</text>
<line x1="407.8" y1="444.4" x2="411.8" y2="444.4" stroke="#c0c0c0" stroke-width="1"/>
<text x="404.4" y="448.6" fill="#d2d2d2" stroke="#d2d2d2" stroke-width="0.15" font-size="9.9" text-anchor="end" textLength="5.85" lengthAdjust="spacingAndGlyphs">0</text>
<line x1="459.9" y1="445.6" x2="459.9" y2="449.6" stroke="#c0c0c0" stroke-width="1"/>
<text x="459.9" y="460.6" fill="#d2d2d2" stroke="#d2d2d2" stroke-width="0.15" font-size="9.9" text-anchor="middle" textLength="11.1" lengthAdjust="spacingAndGlyphs">Jul</text>
<line x1="578" y1="445.6" x2="578" y2="449.6" stroke="#c0c0c0" stroke-width="1"/>
<text x="578" y="460.6" fill="#d2d2d2" stroke="#d2d2d2" stroke-width="0.15" font-size="9.9" text-anchor="middle" textLength="17.34" lengthAdjust="spacingAndGlyphs">Sep</text>
<line x1="693.7" y1="445.6" x2="693.7" y2="449.6" stroke="#c0c0c0" stroke-width="1"/>
<text x="693.7" y="460.6" fill="#d2d2d2" stroke="#d2d2d2" stroke-width="0.15" font-size="9.9" text-anchor="middle" textLength="17.96" lengthAdjust="spacingAndGlyphs">Nov</text>
<text x="568.4" y="355.5" fill="#f4f4f4" stroke="#f4f4f4" stroke-width="0.35" font-size="12.72" font-weight="bold" text-anchor="middle" textLength="34.17" lengthAdjust="spacingAndGlyphs">SBET</text>
</g>
<g>
<line x1="758.8" y1="381" x2="1072" y2="381" stroke="#202020" stroke-width="0.8"/>
<line x1="758.8" y1="414.4" x2="1072" y2="414.4" stroke="#202020" stroke-width="0.8"/>
<line x1="825.8" y1="362.5" x2="825.8" y2="445.6" stroke="#202020" stroke-width="0.8"/>
<line x1="897" y1="362.5" x2="897" y2="445.6" stroke="#202020" stroke-width="0.8"/>
<line x1="966.2" y1="362.5" x2="966.2" y2="445.6" stroke="#202020" stroke-width="0.8"/>
<line x1="1036.7" y1="362.5" x2="1036.7" y2="445.6" stroke="#202020" stroke-width="0.8"/>
<line x1="758.8" y1="414.4" x2="1072" y2="414.4" stroke="#3e3e3e" stroke-width="0.9" stroke-dasharray="6,1.8"/>
<polyline fill="none" stroke="#f0d67c" stroke-width="2.0" stroke-linejoin="round" stroke-linecap="round" stroke-opacity="0.95" points="772.7,414.1 778,412 784,411 790,406 795,404 800,402 803,402.5 805.5,404 810,402.5 816,401.8 821,401.5 823,402.5 826,405.5 830,403.5 832.5,402.5 836,404 840,400 844,398 849,396.5 853,390 856,392.5 860,394.5 864,395 867,398.8 869,395 871,396.5 874,388.8 878,391.5 881,395 883,392 888,393 890,394.8 898,395.8 901,393.2 904,395.8 915,395.8 919,394.5 922,390 926,391.5 930,393.2 935,391.5 940,394 946,397 950,397.8 952,401 956,398.5 962,397 964,397.5 967,394 969,392.8 977,390.5 980,393 982.5,392.5 984,394 986,401 993,396 997,398.5 1002,401 1009,399.5 1014,401.5 1019,400 1025,397.8 1029,400 1035,401.5 1041,404.5 1044,408 1046,406.5 1048,407.5 1052,405.5 1058,404.2"/>
<polyline fill="none" stroke="#98c690" stroke-width="2.0" stroke-linejoin="round" stroke-linecap="round" stroke-opacity="0.95" points="772.7,414.1 779,411 785.1,394.1 791.1,394.1 794.1,381 805.2,381 808.2,375.6 815.2,375.6 819.2,377.6 827.2,378 833.2,379.6 841.2,379.6 847.2,376 857.3,375.6 865.3,370.4 879.3,369.6 897.3,370 914.1,371 938.1,371 944.2,369 964.2,368 992.3,367.6 996.3,366.4 1008.3,366 1057.4,366"/>
<polyline fill="none" stroke="#80b2e0" stroke-width="2.0" stroke-linejoin="round" stroke-linecap="round" stroke-opacity="0.95" points="772.7,414.1 775.1,426.1 780.1,430.1 787.1,436.2 793.1,437.8 801.1,439.8 811.2,440.2 819.2,441.8 831.2,441.8 839.2,440.2 843.2,438.2 855.3,438.6 867.3,440.2 887.3,441.2 907.4,441.8 914.1,441.2 924.1,439.8 938.1,438.6 954.2,439.8 974.2,439.2 994.3,439.2 1024.3,439.8 1044.4,440.6 1057.4,441.2"/>
<rect x="758.8" y="362.5" width="313.2" height="83.1" fill="none" stroke="#c0c0c0" stroke-width="1.25"/>
<line x1="754.8" y1="381" x2="758.8" y2="381" stroke="#c0c0c0" stroke-width="1"/>
<text x="751.4" y="385.2" fill="#d2d2d2" stroke="#d2d2d2" stroke-width="0.15" font-size="9.9" text-anchor="end" textLength="5.85" lengthAdjust="spacingAndGlyphs">2</text>
<line x1="754.8" y1="414.4" x2="758.8" y2="414.4" stroke="#c0c0c0" stroke-width="1"/>
<text x="751.4" y="418.6" fill="#d2d2d2" stroke="#d2d2d2" stroke-width="0.15" font-size="9.9" text-anchor="end" textLength="5.85" lengthAdjust="spacingAndGlyphs">1</text>
<line x1="825.8" y1="445.6" x2="825.8" y2="449.6" stroke="#c0c0c0" stroke-width="1"/>
<text x="825.8" y="460.6" fill="#d2d2d2" stroke="#d2d2d2" stroke-width="0.15" font-size="9.9" text-anchor="middle" textLength="17.96" lengthAdjust="spacingAndGlyphs">Aug</text>
<line x1="897" y1="445.6" x2="897" y2="449.6" stroke="#c0c0c0" stroke-width="1"/>
<text x="897" y="460.6" fill="#d2d2d2" stroke="#d2d2d2" stroke-width="0.15" font-size="9.9" text-anchor="middle" textLength="17.34" lengthAdjust="spacingAndGlyphs">Sep</text>
<line x1="966.2" y1="445.6" x2="966.2" y2="449.6" stroke="#c0c0c0" stroke-width="1"/>
<text x="966.2" y="460.6" fill="#d2d2d2" stroke="#d2d2d2" stroke-width="0.15" font-size="9.9" text-anchor="middle" textLength="15.91" lengthAdjust="spacingAndGlyphs">Oct</text>
<line x1="1036.7" y1="445.6" x2="1036.7" y2="449.6" stroke="#c0c0c0" stroke-width="1"/>
<text x="1036.7" y="460.6" fill="#d2d2d2" stroke="#d2d2d2" stroke-width="0.15" font-size="9.9" text-anchor="middle" textLength="17.96" lengthAdjust="spacingAndGlyphs">Nov</text>
<text x="915.4" y="355.5" fill="#f4f4f4" stroke="#f4f4f4" stroke-width="0.35" font-size="12.72" font-weight="bold" text-anchor="middle" textLength="40.37" lengthAdjust="spacingAndGlyphs">BMNR</text>
</g>
</svg>
</body></html>
